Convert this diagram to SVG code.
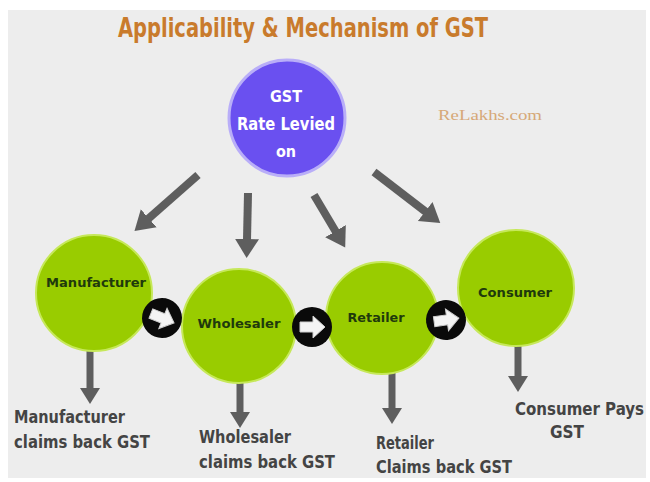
<svg xmlns="http://www.w3.org/2000/svg" width="650" height="482" viewBox="0 0 650 482">
<defs>
<style>
.cond{font-family:"DejaVu Sans Condensed","Liberation Sans Narrow","Liberation Sans",sans-serif;font-weight:bold}
.green{fill:#99cc00;stroke:#c6e85a;stroke-width:2}
.gtext{fill:#1f3a0c;font-size:12px;text-anchor:middle}
.btext{fill:#444;font-size:17px}
.garrow{stroke:#5e5e5e;stroke-width:8;fill:none;marker-end:url(#ah)}
.darrow{stroke:#5e5e5e;stroke-width:7;fill:none;marker-end:url(#ah2)}
.bc{fill:#0a0a0a}
.wa{fill:#f4f4f4;stroke:#cfcfcf;stroke-width:1}
</style>
<marker id="ah" markerUnits="userSpaceOnUse" markerWidth="20" markerHeight="26" viewBox="0 0 20 26" refX="1" refY="13" orient="auto">
<path d="M0,1 L19,13 L0,25 Z" fill="#5e5e5e"/>
</marker>
<marker id="ah2" markerUnits="userSpaceOnUse" markerWidth="17" markerHeight="22" viewBox="0 0 17 22" refX="1" refY="11" orient="auto">
<path d="M0,1 L16,11 L0,21 Z" fill="#5e5e5e"/>
</marker>
</defs>
<rect x="0" y="0" width="650" height="482" fill="#ffffff"/>
<rect x="8" y="10" width="638" height="468" fill="#ededed"/>
<text class="cond" x="118" y="37" font-size="26" fill="#c97b2c" textLength="370" lengthAdjust="spacingAndGlyphs">Applicability &amp; Mechanism of GST</text>
<text x="438" y="120" font-family="Liberation Serif, serif" font-size="15" fill="#d6a878" textLength="104" lengthAdjust="spacingAndGlyphs">ReLakhs.com</text>

<g id="connectors">
<line class="garrow" x1="198" y1="175" x2="148" y2="219"/>
<line class="garrow" x1="248" y1="193" x2="247" y2="240"/>
<line class="garrow" x1="314" y1="195" x2="336" y2="232"/>
<line class="garrow" x1="374" y1="172" x2="426" y2="212"/>
<line class="darrow" x1="90" y1="350" x2="90" y2="389"/>
<line class="darrow" x1="240" y1="383" x2="240" y2="413"/>
<line class="darrow" x1="392" y1="373" x2="392" y2="409"/>
<line class="darrow" x1="518" y1="344" x2="518" y2="377"/>
</g>

<g id="gst">
<circle cx="287" cy="118" r="58" fill="#6a50f0" stroke="#b9aef8" stroke-width="3"/>
<text class="cond" x="286" y="102" font-size="16" fill="#fff" text-anchor="middle">GST</text>
<text class="cond" x="286" y="130" font-size="17" fill="#fff" text-anchor="middle" textLength="98" lengthAdjust="spacingAndGlyphs">Rate Levied</text>
<text class="cond" x="286" y="157" font-size="16" fill="#fff" text-anchor="middle">on</text>
</g>

<g id="manufacturer">
<circle class="green" cx="94" cy="293" r="58"/>
<text class="cond gtext" x="96" y="287" textLength="100" lengthAdjust="spacingAndGlyphs">Manufacturer</text>
</g>
<g id="wholesaler">
<circle class="green" cx="239" cy="326" r="57"/>
<text class="cond gtext" x="239" y="328" textLength="83" lengthAdjust="spacingAndGlyphs">Wholesaler</text>
</g>
<g id="retailer">
<circle class="green" cx="382" cy="318" r="56"/>
<text class="cond gtext" x="376" y="322" textLength="57" lengthAdjust="spacingAndGlyphs">Retailer</text>
</g>
<g id="consumer">
<circle class="green" cx="516" cy="288" r="58"/>
<text class="cond gtext" x="515" y="297" textLength="74" lengthAdjust="spacingAndGlyphs">Consumer</text>
</g>

<g id="flow1" transform="translate(162,318) rotate(22)">
<circle class="bc" r="20"/>
<polygon class="wa" points="-12,-5 1,-5 1,-11 13,0 1,11 1,5 -12,5"/>
</g>
<g id="flow2" transform="translate(312,327)">
<circle class="bc" r="20"/>
<polygon class="wa" points="-12,-5 1,-5 1,-11 13,0 1,11 1,5 -12,5"/>
</g>
<g id="flow3" transform="translate(446,320) rotate(-8)">
<circle class="bc" r="20"/>
<polygon class="wa" points="-12,-5 1,-5 1,-11 13,0 1,11 1,5 -12,5"/>
</g>

<g id="labels">
<text class="cond btext" x="14" y="423" textLength="111" lengthAdjust="spacingAndGlyphs">Manufacturer</text>
<text class="cond btext" x="14" y="448" textLength="136" lengthAdjust="spacingAndGlyphs">claims back GST</text>
<text class="cond btext" x="199" y="443" textLength="92" lengthAdjust="spacingAndGlyphs">Wholesaler</text>
<text class="cond btext" x="199" y="468" textLength="136" lengthAdjust="spacingAndGlyphs">claims back GST</text>
<text class="cond btext" x="376" y="449" textLength="58" lengthAdjust="spacingAndGlyphs">Retailer</text>
<text class="cond btext" x="376" y="473" textLength="136" lengthAdjust="spacingAndGlyphs">Claims back GST</text>
<text class="cond btext" x="515" y="415" textLength="129" lengthAdjust="spacingAndGlyphs">Consumer Pays</text>
<text class="cond btext" x="567" y="438" text-anchor="middle">GST</text>
</g>
</svg>
